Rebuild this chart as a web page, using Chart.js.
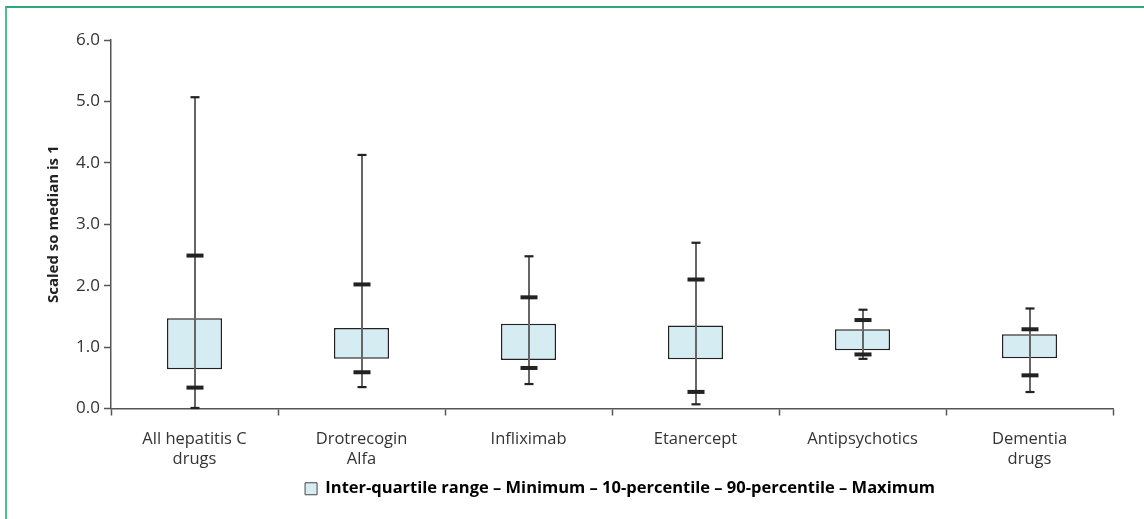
<!DOCTYPE html>
<html>
<head>
<meta charset="utf-8">
<script src="https://cdn.jsdelivr.net/npm/chart.js@4.4.1/dist/chart.umd.min.js"></script>
<style>
  html, body { margin: 0; padding: 0; background: #ffffff; }
  #wrap { position: relative; width: 1144px; height: 519px; overflow: hidden; }
  #frame {
    position: absolute; left: 5px; top: 6px; right: -10px; bottom: -10px;
    border-left: 2px solid #4cbf93; border-top: 2px solid #2fa878;
    pointer-events: none;
  }
  canvas { position: absolute; left: 0; top: 0; }
</style>
</head>
<body>
<div id="wrap">
  <canvas id="chart" width="1144" height="519"></canvas>
  <div id="frame"></div>
</div>
<script>
// Drug categories (multi-line labels)
const categories = [
  ['All hepatitis C', 'drugs'],
  ['Drotrecogin', 'Alfa'],
  'Infliximab',
  'Etanercept',
  'Antipsychotics',
  ['Dementia', 'drugs']
];

// Distribution summaries, scaled so the median is 1
const minVals = [0.01, 0.35, 0.40, 0.07, 0.81, 0.27];
const p10Vals = [0.34, 0.59, 0.66, 0.27, 0.88, 0.54];
const q1Vals  = [0.64, 0.81, 0.79, 0.80, 0.95, 0.82];
const q3Vals  = [1.47, 1.31, 1.38, 1.35, 1.29, 1.21];
const p90Vals = [2.49, 2.02, 1.81, 2.10, 1.44, 1.29];
const maxVals = [5.07, 4.13, 2.48, 2.70, 1.61, 1.63];

// Y axis tick values
const yTicks = [0, 1, 2, 3, 4, 5, 6];

const legendText = 'Inter-quartile range \u2013 Minimum \u2013 10-percentile \u2013 90-percentile \u2013 Maximum';
const boxFill = '#d5ecf3';
const inkDark = '#222222';
const axisGrey = '#555555';

// Whiskers and caps drawn over the inter-quartile boxes
const whiskerPlugin = {
  id: 'whiskers',
  afterDatasetsDraw(chart) {
    const ctx = chart.ctx;
    const y = chart.scales.y;
    const meta = chart.getDatasetMeta(0);
    ctx.save();
    meta.data.forEach((bar, i) => {
      const x = Math.round(bar.x);
      const yMin = y.getPixelForValue(minVals[i]);
      const yMax = y.getPixelForValue(maxVals[i]);
      ctx.strokeStyle = '#666666';
      ctx.lineWidth = 2;
      ctx.beginPath();
      ctx.moveTo(x, yMin);
      ctx.lineTo(x, yMax);
      ctx.stroke();

      ctx.fillStyle = inkDark;
      // thin caps at minimum and maximum
      [minVals[i], maxVals[i]].forEach(v => {
        const py = y.getPixelForValue(v);
        ctx.fillRect(x - 4.5, py - 1, 9, 2.2);
      });
      // heavy caps at 10th and 90th percentile
      [p10Vals[i], p90Vals[i]].forEach(v => {
        const py = y.getPixelForValue(v);
        ctx.fillRect(x - 8.5, py - 2, 17, 4);
      });
    });
    ctx.restore();
  }
};

// Centre the legend under the plot area
const legendCentre = {
  id: 'legendCentre',
  afterLayout(chart) {
    if (chart.legend) {
      chart.legend.left = chart.chartArea.left + 8;
      chart.legend.right = chart.chartArea.right + 8;
    }
  }
};

const chart = new Chart(document.getElementById('chart'), {
  type: 'bar',
  data: {
    labels: categories,
    datasets: [{
      label: legendText,
      data: q1Vals.map((q1, i) => [q1, q3Vals[i]]),
      backgroundColor: boxFill,
      borderColor: inkDark,
      borderWidth: 1.5,
      borderSkipped: false,
      barPercentage: 0.33,
      categoryPercentage: 1.0
    }]
  },
  options: {
    responsive: false,
    animation: false,
    devicePixelRatio: 1,
    layout: { padding: { top: 40, left: 36, right: 31, bottom: 12 } },
    plugins: {
      tooltip: { enabled: false },
      legend: {
        position: 'bottom',
        labels: {
          color: inkDark,
          font: { family: 'Open Sans', size: 16.5, weight: 'bold' },
          boxWidth: 12,
          boxHeight: 12,
          padding: 8,
          generateLabels: () => [{
            text: legendText,
            fillStyle: boxFill,
            strokeStyle: '#444444',
            lineWidth: 1,
            hidden: false,
            datasetIndex: 0
          }]
        }
      }
    },
    scales: {
      x: {
        offset: true,
        grid: {
          display: true,
          offset: true,
          drawOnChartArea: false,
          drawTicks: true,
          tickLength: 7,
          tickWidth: 1.5,
          tickColor: axisGrey
        },
        border: { display: true, color: axisGrey, width: 1.5 },
        ticks: {
          color: '#333333',
          padding: 14,
          maxRotation: 0,
          font: { family: 'Open Sans', size: 16.5, lineHeight: 1.2 }
        },
        afterFit(s) { s.height = 64; }
      },
      y: {
        min: 0,
        max: 6,
        afterBuildTicks(s) { s.ticks = yTicks.map(v => ({ value: v })); },
        grid: {
          display: true,
          drawOnChartArea: false,
          drawTicks: true,
          tickLength: 7,
          tickWidth: 1.5,
          tickColor: axisGrey
        },
        border: { display: true, color: axisGrey, width: 1.5 },
        ticks: {
          color: '#333333',
          padding: 4,
          font: { family: 'Open Sans', size: 17 },
          callback: v => Number(v).toFixed(1)
        },
        title: {
          display: true,
          text: 'Scaled so median is 1',
          color: inkDark,
          padding: { top: 9, bottom: 0 },
          font: { family: 'Open Sans', size: 15, weight: 'bold' }
        },
        afterFit(s) { s.width = 75; }
      }
    }
  },
  plugins: [whiskerPlugin, legendCentre]
});
</script>
</body>
</html>
